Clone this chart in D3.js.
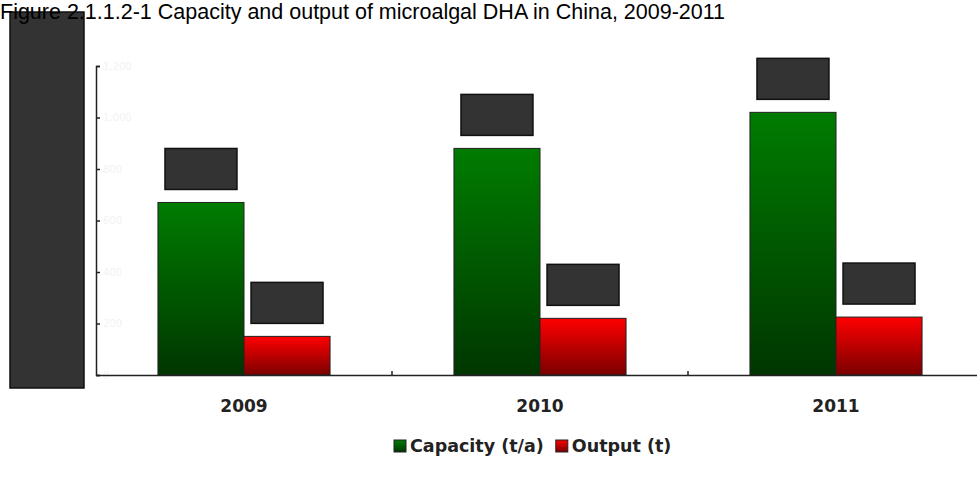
<!DOCTYPE html>
<html>
<head>
<meta charset="utf-8">
<script src="https://cdn.jsdelivr.net/npm/d3@7"></script>
<style>
  html, body { margin: 0; padding: 0; background: #fff; }
  svg { display: block; }
</style>
</head>
<body>
<svg id="chart" width="977" height="483"></svg>
<script>
// ---- data ----
const title = "Figure 2.1.1.2-1 Capacity and output of microalgal DHA in China, 2009-2011";
const categories = ["2009", "2010", "2011"];
const seriesNames = ["Capacity (t/a)", "Output (t)"];
const capacity = [670, 880, 1020];
const output = [150, 220, 225];
const yTicks = [0, 200, 400, 600, 800, 1000, 1200];

const svg = d3.select("#chart");
const defs = svg.append("defs");

function grad(id, top, bottom) {
  const g = defs.append("linearGradient").attr("id", id)
    .attr("x1", 0).attr("y1", 0).attr("x2", 0).attr("y2", 1);
  g.append("stop").attr("offset", "0%").attr("stop-color", top);
  g.append("stop").attr("offset", "100%").attr("stop-color", bottom);
}
grad("gGreen", "#007c00", "#003600");
grad("gRed", "#ff0000", "#7a0000");
const fills = ["url(#gGreen)", "url(#gRed)"];

// y-axis title box (redacted)
svg.append("rect").attr("x", 10).attr("y", 12).attr("width", 74).attr("height", 376)
  .attr("fill", "#333").attr("stroke", "#111").attr("stroke-width", 1.5);

// title
svg.append("text").attr("x", 0).attr("y", 19)
  .attr("font-family", "Liberation Sans, Arial, sans-serif")
  .attr("font-size", 21.5).attr("fill", "#000").text(title);

// scales
const x0 = d3.scaleBand().domain(categories).range([96, 984]).padding(0);
const x1 = d3.scaleBand().domain(seriesNames).range([0, x0.bandwidth()])
  .paddingInner(0).paddingOuter(0.72);
const y = d3.scaleLinear().domain([0, 1200]).range([375, 66]);

// y axis (ticks inside)
const yAxis = d3.axisRight(y).tickValues(yTicks).tickSize(4).tickFormat(d3.format(","));
const ya = svg.append("g").attr("transform", "translate(96,0)").call(yAxis);
ya.select(".domain").attr("stroke", "#222").attr("stroke-width", 1.5);
ya.selectAll(".tick line").attr("stroke", "#222").attr("stroke-width", 1.5);
ya.selectAll(".tick text").attr("fill", "#f2f2f2").attr("font-size", 10)
  .attr("font-family", "DejaVu Sans, sans-serif");

// bars
const data = categories.map((c, i) => ({ cat: c, vals: [capacity[i], output[i]] }));
const groups = svg.append("g").selectAll("g").data(data).join("g")
  .attr("transform", d => `translate(${x0(d.cat)},0)`);
groups.selectAll("rect").data(d => d.vals.map((v, j) => ({ v, j, name: seriesNames[j] })))
  .join("rect")
  .attr("x", d => x1(d.name))
  .attr("y", d => y(d.v))
  .attr("width", x1.bandwidth())
  .attr("height", d => y(0) - y(d.v))
  .attr("fill", d => fills[d.j])
  .attr("stroke", "#222").attr("stroke-width", 1);

// value label boxes (redacted labels)
groups.selectAll("g.lbl").data(d => d.vals.map((v, j) => ({ v, j, name: seriesNames[j] })))
  .join("g").attr("class", "lbl")
  .each(function (d) {
    const g = d3.select(this);
    const cx = x1(d.name) + x1.bandwidth() / 2;
    const bw = 72, bh = 41;
    g.append("rect")
      .attr("x", cx - bw / 2).attr("y", y(d.v) - 13 - bh)
      .attr("width", bw).attr("height", bh)
      .attr("fill", "#333").attr("stroke", "#111").attr("stroke-width", 1.5);
  });

// x axis
const xAxis = d3.axisBottom(x0).tickSize(0).tickPadding(25);
const xa = svg.append("g").attr("transform", "translate(0,375)").call(xAxis);
xa.select(".domain").attr("stroke", "#222").attr("stroke-width", 1.5);
xa.selectAll(".tick text")
  .attr("font-family", "DejaVu Sans, Verdana, sans-serif")
  .attr("font-weight", "bold").attr("font-size", 17).attr("fill", "#222");
// category separator ticks (inside)
svg.append("g").selectAll("line").data(categories.slice(1)).join("line")
  .attr("x1", d => x0(d)).attr("x2", d => x0(d))
  .attr("y1", 375).attr("y2", 371)
  .attr("stroke", "#222").attr("stroke-width", 1.5);

// legend
const legend = svg.append("g").attr("transform", "translate(394,452)");
let lx = 0;
seriesNames.forEach((name, j) => {
  const item = legend.append("g").attr("transform", `translate(${lx},0)`);
  item.append("rect").attr("x", 0).attr("y", -12).attr("width", 12).attr("height", 12)
    .attr("fill", fills[j]).attr("stroke", "#222").attr("stroke-width", 1);
  const t = item.append("text").attr("x", 16).attr("y", 0)
    .attr("font-family", "DejaVu Sans, Verdana, sans-serif")
    .attr("font-weight", "bold").attr("font-size", 17.5).attr("fill", "#222")
    .text(name);
  lx += 16 + t.node().getComputedTextLength() + 12;
});
</script>
</body>
</html>
